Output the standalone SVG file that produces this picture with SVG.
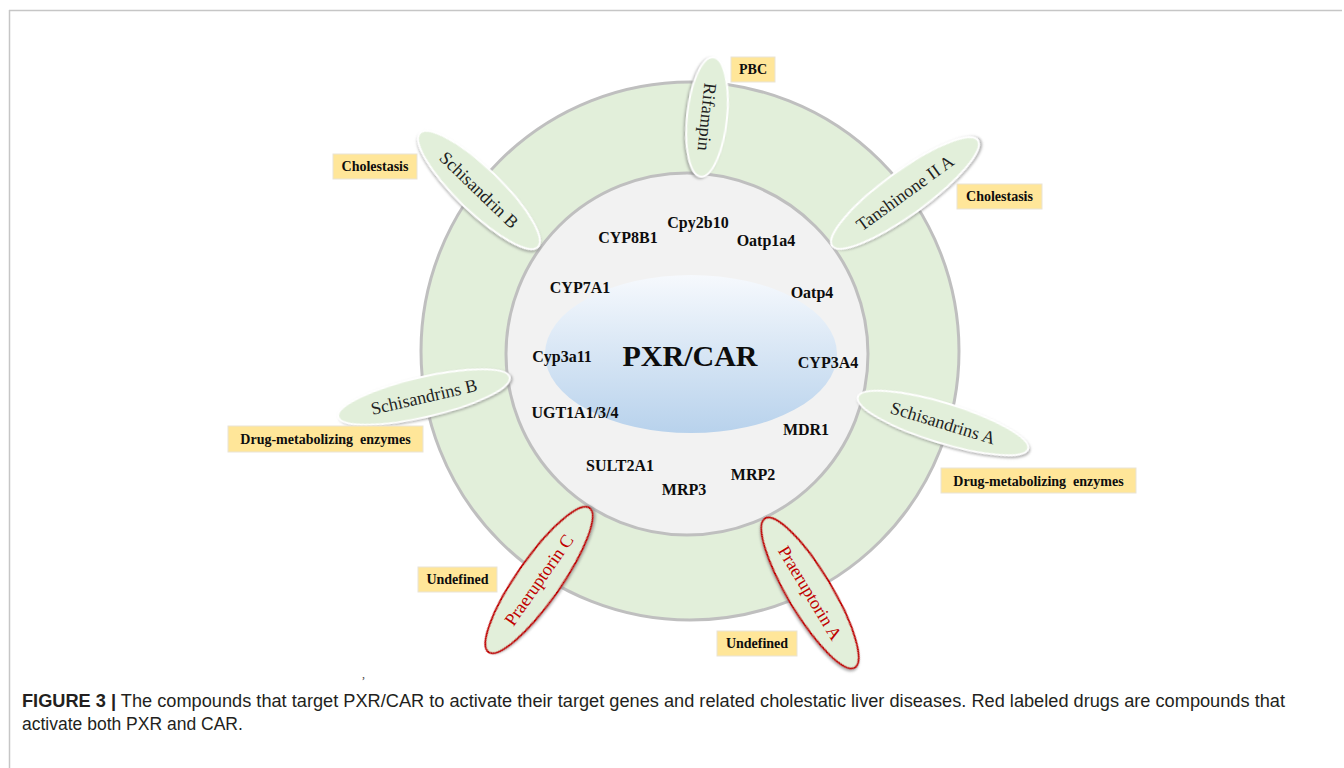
<svg xmlns="http://www.w3.org/2000/svg" width="1344" height="768" viewBox="0 0 1344 768">
<defs>
<linearGradient id="blueGrad" x1="0" y1="0" x2="0" y2="1">
<stop offset="0" stop-color="#f6f9fd"/>
<stop offset="1" stop-color="#b8d2ec"/>
</linearGradient>
<filter id="shadow" x="-20%" y="-40%" width="140%" height="180%">
<feDropShadow dx="1.5" dy="1.5" stdDeviation="1.2" flood-color="#7f7f7f" flood-opacity="0.6"/>
</filter>
<style>
.gene{font-family:"Liberation Serif",serif;font-weight:bold;font-size:16px;fill:#0d0d0d;text-anchor:middle}
.drug{font-family:"Liberation Serif",serif;font-size:18px;fill:#1f1f1f;text-anchor:middle}
.drugR{font-family:"Liberation Serif",serif;font-size:18px;fill:#c00000;text-anchor:middle}
.pill{fill:#e2efda;stroke:#ffffff;stroke-width:2;filter:url(#shadow)}
.pillR{fill:#e2efda;stroke:#c00000;stroke-width:2;filter:url(#shadow)}
.box{fill:#ffe699;stroke:#e9e4d6;stroke-width:1}
.boxt{font-family:"Liberation Serif",serif;font-weight:bold;font-size:14px;fill:#0d0d0d;text-anchor:middle;white-space:pre}
.cap{font-family:"Liberation Sans",Arial,sans-serif;font-size:17.5px;fill:#231f20}
</style>
</defs>
<rect x="0" y="0" width="1344" height="768" fill="#ffffff"/>
<g id="frame" stroke="#c6c6c6" stroke-width="1.5" fill="none">
<line x1="9" y1="10.5" x2="1342" y2="10.5"/>
<line x1="9.5" y1="10" x2="9.5" y2="768"/>
</g>
<g id="outer-ring"><circle cx="690" cy="351" r="269" fill="#e2efda" stroke="#bfbfbf" stroke-width="3"/></g>
<g id="inner-circle"><circle cx="687" cy="354" r="181" fill="#f2f2f2" stroke="#bfbfbf" stroke-width="3"/></g>
<g id="pxr-car">
<ellipse cx="691" cy="354" rx="146" ry="79" fill="url(#blueGrad)"/>
<text x="690" y="366" font-family="'Liberation Serif',serif" font-weight="bold" font-size="30" fill="#0d0d0d" text-anchor="middle">PXR/CAR</text>
</g>
<g id="genes">
<text class="gene" x="698" y="228">Cpy2b10</text>
<text class="gene" x="628" y="243">CYP8B1</text>
<text class="gene" x="766" y="246">Oatp1a4</text>
<text class="gene" x="580" y="293">CYP7A1</text>
<text class="gene" x="812" y="298">Oatp4</text>
<text class="gene" x="562" y="362">Cyp3a11</text>
<text class="gene" x="828" y="368">CYP3A4</text>
<text class="gene" x="575" y="418">UGT1A1/3/4</text>
<text class="gene" x="806" y="435">MDR1</text>
<text class="gene" x="620" y="471">SULT2A1</text>
<text class="gene" x="753" y="480">MRP2</text>
<text class="gene" x="684" y="495">MRP3</text>
</g>
<g id="drug-rifampin" transform="translate(707,117) rotate(96)">
<ellipse class="pill" cx="0" cy="0" rx="60" ry="20"/>
<text class="drug" x="0" y="6">Rifampin</text>
</g>
<g id="drug-schisandrin-b" transform="translate(479,190) rotate(44)">
<ellipse class="pill" cx="0" cy="0" rx="82" ry="22"/>
<text class="drug" x="0" y="6">Schisandrin B</text>
</g>
<g id="drug-tanshinone" transform="translate(905,193) rotate(-36)">
<ellipse class="pill" cx="0" cy="0" rx="90" ry="22"/>
<text class="drug" x="0" y="6">Tanshinone II A</text>
</g>
<g id="drug-schisandrins-b" transform="translate(424,397) rotate(-13)">
<ellipse class="pill" cx="0" cy="0" rx="88" ry="20"/>
<text class="drug" x="0" y="6">Schisandrins B</text>
</g>
<g id="drug-schisandrins-a" transform="translate(943,423) rotate(17)">
<ellipse class="pill" cx="0" cy="0" rx="89" ry="20"/>
<text class="drug" x="0" y="6">Schisandrins A</text>
</g>
<g id="drug-praeruptorin-c" transform="translate(539,580) rotate(-55)">
<ellipse class="pillR" cx="0" cy="0" rx="88" ry="22"/>
<text class="drugR" x="0" y="6">Praeruptorin C</text>
</g>
<g id="drug-praeruptorin-a" transform="translate(810,593) rotate(59)">
<ellipse class="pillR" cx="0" cy="0" rx="87" ry="22"/>
<text class="drugR" x="0" y="6">Praeruptorin A</text>
</g>
<g id="label-pbc"><rect class="box" x="731" y="57" width="44" height="25"/><text class="boxt" x="753" y="74">PBC</text></g>
<g id="label-cholestasis-left"><rect class="box" x="333" y="154" width="84" height="25"/><text class="boxt" x="375" y="171">Cholestasis</text></g>
<g id="label-cholestasis-right"><rect class="box" x="957" y="184" width="85" height="25"/><text class="boxt" x="999.5" y="201">Cholestasis</text></g>
<g id="label-dme-left"><rect class="box" x="228" y="426" width="195" height="26"/><text class="boxt" x="325.5" y="444">Drug-metabolizing  enzymes</text></g>
<g id="label-dme-right"><rect class="box" x="941" y="468" width="195" height="25"/><text class="boxt" x="1038.5" y="486">Drug-metabolizing  enzymes</text></g>
<g id="label-undefined-left"><rect class="box" x="418" y="567" width="79" height="25"/><text class="boxt" x="457.5" y="584">Undefined</text></g>
<g id="label-undefined-right"><rect class="box" x="717" y="631" width="80" height="25"/><text class="boxt" x="757" y="648">Undefined</text></g>
<text x="362" y="678" font-family="'Liberation Serif',serif" font-size="12" fill="#444">,</text>
<g id="caption">
<text class="cap" x="22" y="707" textLength="1263" lengthAdjust="spacingAndGlyphs"><tspan font-weight="bold">FIGURE 3 |</tspan> The compounds that target PXR/CAR to activate their target genes and related cholestatic liver diseases. Red labeled drugs are compounds that</text>
<text class="cap" x="22" y="730">activate both PXR and CAR.</text>
</g>
</svg>
